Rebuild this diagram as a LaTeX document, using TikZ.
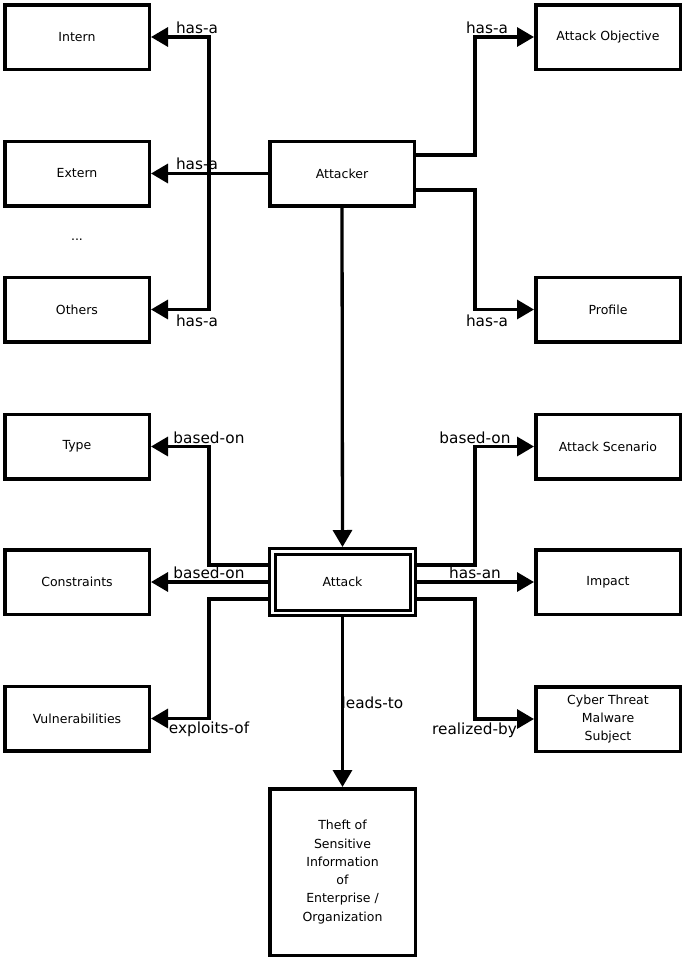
\documentclass[tikz,border=0pt]{standalone}
\usepackage{fontspec}
\setmainfont{DejaVu Sans}
\usetikzlibrary{arrows.meta}
\begin{document}
\begin{tikzpicture}[x=1pt,y=-1pt,
  box/.style={draw, line width=3.5pt, minimum width=144.5pt, minimum height=64.5pt, align=center,
    font=\fontsize{12.5}{18.3}\selectfont, inner sep=2pt},
  arr/.style={line width=3.3pt, -{Triangle[length=17pt,width=19pt]}},
  lbl/.style={font=\fontsize{15.3}{18}\selectfont, inner sep=0pt, anchor=base}]
\useasboundingbox (0,0) rectangle (685,961);
% nodes
\node[box] (intern) at (77,37) {Intern};
\node[box] (extern) at (77,173.5) {Extern};
\node[font=\fontsize{12.5}{15}\selectfont] (dots) at (77,240) {...};
\node[box] (others) at (77,309.5) {Others};
\node[box] (attacker) at (342,173.5) {Attacker};
\node[box] (objective) at (608,37) {Attack Objective};
\node[box] (profile) at (608,309.5) {Profile};
\node[box] (type) at (77,446.5) {Type};
\node[box] (constraints) at (77,582) {Constraints};
\node[box] (vuln) at (77,718.5) {Vulnerabilities};
\node[box] (scenario) at (608,446.5) {Attack Scenario};
\node[box] (impact) at (608,582) {Impact};
\node[box] (cyber) at (608,719) {Cyber Threat\\Malware\\Subject};
\node[box, double, double distance=2.5pt, line width=3pt, minimum width=140.5pt,
  minimum height=61.5pt, outer sep=4.25pt] (attack) at (342.5,582) {Attack};
\node[box, minimum width=145.5pt, minimum height=166.5pt] (theft) at (342.5,872)
  {Theft of\\Sensitive\\Information\\of\\Enterprise /\\Organization};
% connectors from Attacker
\coordinate (jl) at (209,173.5);
\draw[arr] (attacker.west) -- (extern.east);
\draw[arr] (jl) |- (intern.east);
\draw[arr] (jl) |- (others.east);
\draw[arr] ([yshift=18.5pt]attacker.east) -- ++(59,0) |- (objective.west);
\draw[arr] ([yshift=-16.5pt]attacker.east) -- ++(59,0) |- (profile.west);
\draw[arr] (attacker.south) -- (attack.north);
% connectors from Attack
\draw[arr] ([yshift=17pt]attack.west) -- ++(-59,0) |- (type.east);
\draw[arr] (attack.west) -- (constraints.east);
\draw[arr] ([yshift=-17pt]attack.west) -- ++(-59,0) |- (vuln.east);
\draw[arr] ([yshift=17pt]attack.east) -- ++(58,0) |- (scenario.west);
\draw[arr] (attack.east) -- (impact.west);
\draw[arr] ([yshift=-17pt]attack.east) -- ++(58,0) |- (cyber.west);
\draw[arr] (attack.south) -- (theft.north);
% labels
\node[lbl] (l1) at (197,33) {has-a};
\node[lbl] (l2) at (197,169) {has-a};
\node[lbl] (l3) at (197,326) {has-a};
\node[lbl] (l4) at (487,33) {has-a};
\node[lbl] (l5) at (487,326) {has-a};
\node[lbl] (l6) at (209,443) {based-on};
\node[lbl] (l7) at (209,578) {based-on};
\node[lbl] (l8) at (209,733) {exploits-of};
\node[lbl] (l9) at (475,443) {based-on};
\node[lbl] (l10) at (475,578) {has-an};
\node[lbl] (l11) at (474.5,734) {realized-by};
\node[lbl] (l12) at (372.5,708) {leads-to};
\end{tikzpicture}
\end{document}
